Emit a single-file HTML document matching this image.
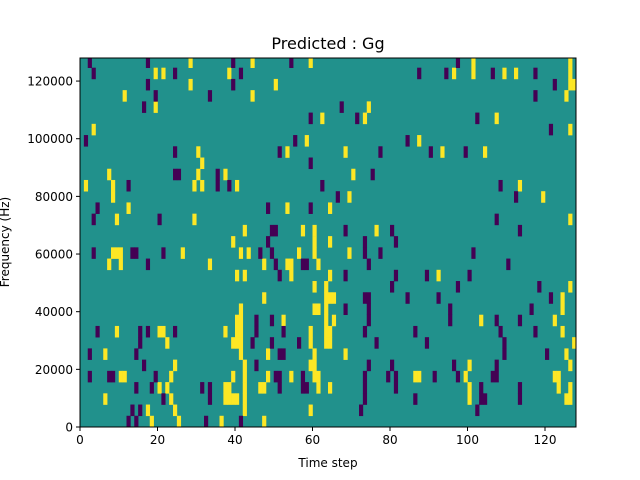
<!DOCTYPE html>
<html><head><meta charset="utf-8"><style>
body{margin:0;background:#fff}
svg{display:block;font-family:"DejaVu Sans","Liberation Sans",sans-serif}
</style></head><body>
<svg id="chart" width="640" height="480" viewBox="0 0 640 480">
<text x="328" y="49" text-anchor="middle" font-size="16" fill="#000">Predicted : Gg</text>
<g id="plot"></g>
<g id="axes"></g>
<text x="328" y="467" text-anchor="middle" font-size="12">Time step</text>
<text transform="translate(9,242) rotate(-90)" text-anchor="middle" font-size="12">Frequency (Hz)</text>
</svg>
<script>
// time steps and frequency bins (bin 0 = bottom)
const nSteps = 128;
const nBins = 33;
const binHz = 3895;
const xTicks = [0,20,40,60,80,100,120];
const yTicks = [0,20000,40000,60000,80000,100000,120000];
const yTickLabels = ["0","20000","40000","60000","80000","100000","120000"];
// rows from top (r) listed with their columns
const yellowRows = {
0:[28,44,59,101,126],1:[19,21,38,96,101,109,112,126],2:[28,50,126,127],3:[11,44,125],4:[19,74],
5:[62,73,107],6:[3,126],7:[58,87],8:[30,53,68,93,104],9:[31],10:[7,30,37,70],
11:[1,8,29,31,40,113],12:[8,69,119],13:[12,53,64],14:[9,29,126],15:[42,57,60,76],16:[39,60,64],
17:[8,9,10,26,41,43,56,60,69],18:[7,10,33,47,53,54,61],19:[40,42,54,64,92],20:[60,63,126],
21:[47,63,64,65,124],22:[41,60,61,63,124],23:[40,41,52,63,65,103,122],24:[9,20,21,37,40,41,59,63,64,124],
25:[22,39,40,41,59,63,64,127],26:[6,41,48,60,68,125],27:[24,42,59,60,100,126],
28:[10,11,23,39,42,48,54,60,61,86,87,99,122,123],29:[20,22,37,38,42,46,47,61,64,100,123,126],
30:[6,23,37,38,39,40,42,100,125,126],31:[17,24,42,59],32:[18,25,36,47]
};
const purpleRows = {
0:[2,17,39,54,97],1:[3,24,41,87,94,106,117],2:[17,39,122],3:[19,33,117],4:[16,67],
5:[59,71,102],6:[121],7:[1,55,84],8:[24,51,77,90,99],9:[59],10:[24,25,35,75],
11:[12,35,38,62,108],12:[66,112],13:[4,48,59],14:[3,20,107],15:[49,50,68,80,113],16:[48,73,81],
17:[3,13,14,21,46,49,73,77,101],18:[17,50,57,58,74,110],19:[51,68,81,89,100],20:[80,97,118],
21:[73,74,84,92,121],22:[68,74,95,116],23:[45,49,74,95,107,113],24:[4,15,17,24,45,52,73,86,108,117],
25:[15,44,49,56,76,89,109],26:[2,14,51,52,109,120],27:[16,45,74,80,96,107],
28:[2,7,8,19,50,51,57,73,79,81,91,97,106,107],29:[14,18,31,33,51,57,58,73,81,103,113],
30:[21,33,73,86,103,104,113],31:[13,15,72,102],32:[12,14,32,41]
};
const L=80,R=576,T=58,B=427,yMax=128000;
const x=t=>L+(R-L)*t/nSteps;
const y=f=>B-(B-T)*f/yMax;
const ns="http://www.w3.org/2000/svg";
const plot=document.getElementById('plot');
const axes=document.getElementById('axes');
const clip=document.createElementNS(ns,'clipPath');clip.id='pc';
const cr=document.createElementNS(ns,'rect');
cr.setAttribute('x',L);cr.setAttribute('y',T);cr.setAttribute('width',R-L);cr.setAttribute('height',B-T);
clip.appendChild(cr);document.getElementById('chart').appendChild(clip);
plot.setAttribute('clip-path','url(#pc)');
const bg=document.createElementNS(ns,'rect');
bg.setAttribute('x',L);bg.setAttribute('y',T);bg.setAttribute('width',R-L);bg.setAttribute('height',B-T);bg.setAttribute('fill','#21918c');


plot.appendChild(bg);
function cell(r,c,color,name){
  const bin=nBins-1-r;
  const e=document.createElementNS(ns,'rect');
  const x0=x(c),x1=x(c+1),y0=y((bin+1)*binHz),y1=y(bin*binHz);
  e.setAttribute('x',x0);e.setAttribute('y',y0);
  e.setAttribute('width',x1-x0+0.3);e.setAttribute('height',y1-y0+0.3);
  e.setAttribute('fill',color);
  
  
  plot.appendChild(e);
}
for(const r in yellowRows) for(const c of yellowRows[r]) cell(+r,c,'#fde725','heatmap-cell-high');
for(const r in purpleRows) for(const c of purpleRows[r]) cell(+r,c,'#440154','heatmap-cell-low');
const frame=document.createElementNS(ns,'rect');
frame.setAttribute('x',L);frame.setAttribute('y',T);frame.setAttribute('width',R-L);frame.setAttribute('height',B-T);
frame.setAttribute('fill','none');frame.setAttribute('stroke','#000');frame.setAttribute('stroke-width','1');


axes.appendChild(frame);
function line(x1,y1,x2,y2){const l=document.createElementNS(ns,'line');
l.setAttribute('x1',x1);l.setAttribute('y1',y1);l.setAttribute('x2',x2);l.setAttribute('y2',y2);l.setAttribute('stroke','#000');


axes.appendChild(l);}
function text(tx,ty,s,anchor,name){const t=document.createElementNS(ns,'text');
t.setAttribute('x',tx);t.setAttribute('y',ty);t.setAttribute('text-anchor',anchor);t.setAttribute('font-size','12');t.textContent=s;


axes.appendChild(t);}
for(const v of xTicks){line(x(v),B,x(v),B+4);text(x(v),B+17,String(v),'middle','x-tick-label');}
yTicks.forEach((v,i)=>{line(L-4,y(v),L,y(v));text(L-7,y(v)+4.5,yTickLabels[i],'end','y-tick-label');});
</script>
</body></html>
